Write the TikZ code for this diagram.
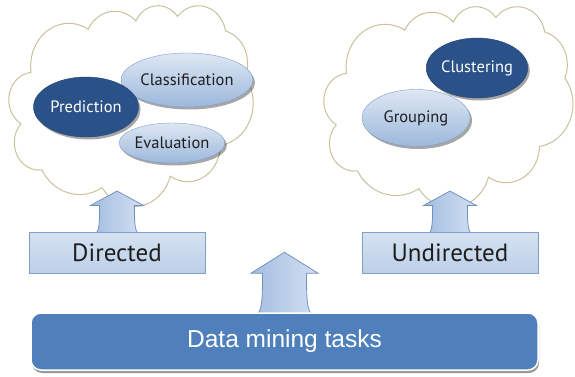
\documentclass[tikz,border=0pt]{standalone}
\usepackage{fontspec}
\setmainfont{PT Sans}
\newfontfamily\arialf{Liberation Sans}
\usetikzlibrary{shapes.geometric,shadows,calc}
\definecolor{cloudline}{HTML}{C9C19B}
\definecolor{darkell}{HTML}{2B5189}
\definecolor{lightTop}{HTML}{DDE7F3}
\definecolor{lightBot}{HTML}{9DB8DC}
\definecolor{lightEdge}{HTML}{7F9FCB}
\definecolor{boxTop}{HTML}{D6E2F1}
\definecolor{boxBot}{HTML}{BCD0E8}
\definecolor{arrL}{HTML}{A3BDE0}
\definecolor{arrR}{HTML}{D3E0F1}
\definecolor{arrEdge}{HTML}{7192C2}
\definecolor{mainBlue}{HTML}{4F80BC}
\definecolor{txtDark}{HTML}{1E1E1E}
\pgfdeclarelayer{bg}\pgfdeclarelayer{mid}\pgfsetlayers{bg,mid,main}
\tikzset{
 carc/.style n args={4}{insert path={arc[x radius=#1, y radius=#2,
   start angle={atan2((#1)*sin(#3),(#2)*cos(#3))},
   delta angle={Mod(atan2((#1)*sin((#3)+(#4)),(#2)*cos((#3)+(#4)))-atan2((#1)*sin(#3),(#2)*cos(#3)),360)}]}},
 cloudshape/.style={draw=cloudline, line width=1pt, fill=white},
 ellbase/.style={ellipse, inner sep=0pt, font=\fontsize{16.5}{18}\selectfont,
   drop shadow={shadow xshift=2pt, shadow yshift=-2.5pt, opacity=0.35, fill=black}},
 darkellipse/.style={ellbase, fill=darkell, draw=darkell!85!black, text=white},
 lightellipse/.style={ellbase, top color=lightTop, bottom color=lightBot, draw=lightEdge, text=txtDark},
 catbox/.style={rectangle, inner sep=0pt, minimum width=176, minimum height=41,
   top color=boxTop, bottom color=boxBot, draw=lightEdge, font=\fontsize{25}{28}\selectfont, text=txtDark},
 taskbox/.style={rectangle, rounded corners=10pt, minimum width=507, minimum height=57,
   fill=mainBlue, draw=white, line width=1.5pt, text=white, font=\arialf\fontsize{24.5}{28}\selectfont,
   drop shadow={shadow xshift=1pt, shadow yshift=-3pt, opacity=0.4, fill=black}},
 blockarrow/.style={left color=arrL, right color=arrR, draw=arrEdge, line width=0.8pt},
 uparrow/.pic={\path[blockarrow] (-28,0) .. controls (-22,-2) and (-22,-20) .. (-22,-41)
   -- (-33.5,-41) -- (0,-62) -- (33.5,-41) -- (22,-41) .. controls (22,-20) and (22,-2) .. (28,0) -- cycle;},
 cloudpath/.style={insert path={(3.9,14.37)
   [carc={6.753}{9.190}{-190.4875}{123.7805}]
   [carc={5.333}{7.267}{-144.1024}{89.9452}]
   [carc={4.365}{5.945}{-145.8079}{99.7230}]
   [carc={4.857}{6.595}{-130.9861}{117.2417}]
   [carc={5.333}{7.273}{-78.7089}{109.0269}]
   [carc={6.775}{9.220}{-46.2673}{130.2690}]
   [carc={5.785}{7.867}{0.6250}{114.0333}]
   [carc={6.752}{9.215}{22.4516}{115.1726}]
   [carc={7.720}{10.543}{66.2426}{75.7110}]
   [carc={4.360}{5.918}{-274.9421}{146.7356}]
   [carc={4.345}{5.945}{-246.8285}{152.5189}] -- cycle}},
}
\begin{document}
\begin{tikzpicture}[x=1pt,y=-1pt]
\useasboundingbox (0,0) rectangle (575,377);
% clouds
\begin{pgfonlayer}{bg}
\begin{scope}[shift={(9,5)}, x=5.65pt, y=-4.65pt]
  \path[cloudshape, cloudpath];
\end{scope}
\begin{scope}[shift={(324,6)}, x=5.76pt, y=-4.65pt]
  \path[cloudshape, cloudpath];
\end{scope}
\end{pgfonlayer}
% ellipses
\node[lightellipse, minimum width=118, minimum height=54] (class) at (187,80) {Classification};
\node[darkellipse, minimum width=105, minimum height=60] (pred) at (86,107) {Prediction};
\node[lightellipse, minimum width=98, minimum height=40] (eval) at (172,143) {Evaluation};
\node[darkellipse, minimum width=94, minimum height=60] (clus) at (477,68) {Clustering};
\node[lightellipse, minimum width=108, minimum height=57] (group) at (416,118) {Grouping};
% boxes
\node[catbox] (dir) at (117,252.5) {Directed};
\node[catbox] (undir) at (450,252.5) {Undirected};
\node[taskbox] (dm) at (284.5,341.5) {Data mining tasks};
% arrows
\begin{pgfonlayer}{mid}
\pic[xscale=0.79, yscale=0.69] at ($(dir.north)+(0,2)$) {uparrow};
\pic[xscale=0.79, yscale=0.69] at ($(undir.north)+(0,2)$) {uparrow};
\pic at ($(dm.north)+(0,2)$) {uparrow};
\end{pgfonlayer}
\end{tikzpicture}
\end{document}
